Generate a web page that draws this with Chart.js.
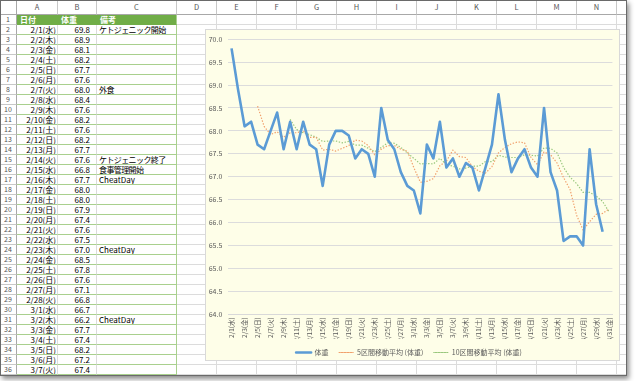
<!DOCTYPE html>
<html><head><meta charset="utf-8">
<script src="https://cdn.jsdelivr.net/npm/chart.js@4.4.1/dist/chart.umd.min.js"></script>
<style>
html,body{margin:0;padding:0;background:#fff;width:640px;height:381px;overflow:hidden;font-family:"Noto Sans CJK JP","Noto Sans",sans-serif;}
#win{position:absolute;left:0;top:0;width:627px;height:376px;overflow:hidden;background:#fff;}
#frame{position:absolute;left:0;top:0;width:627px;height:376px;box-sizing:border-box;border:1px solid #6a6a6a;box-shadow:2px 3px 5px rgba(0,0,0,0.45);pointer-events:none;z-index:10;}
.c{position:absolute;box-sizing:border-box;border-right:1px solid #dcdcdc;border-bottom:1px solid #dcdcdc;font-size:8px;line-height:9px;white-space:nowrap;overflow:hidden;color:#000;}
.h{background:#fff;color:#555;text-align:center;font-size:7.5px;border-color:#c8c8c8;}
.hr{border-bottom:1px solid #a8a8a8;}
.rh{border-right:1px solid #a8a8a8;}
.t{border-bottom:1px solid #a9d08e;}
.th{background:#70ad47;color:#fff;font-weight:bold;border-bottom:1px solid #70ad47;border-right-color:#70ad47;}
.r{text-align:right;}
#chartbox{position:absolute;left:205px;top:29px;width:415px;height:332px;box-sizing:border-box;border:1px solid #d9d9d9;background:#fefee8;overflow:hidden;z-index:5;}
#cv{position:absolute;left:-1px;top:-1px;}
</style></head>
<body>
<div id="win"></div>
<div id="frame"></div>
<script>
// ---- data ----
const categories = ['2/1(水)','2/2(木)','2/3(金)','2/4(土)','2/5(日)','2/6(月)','2/7(火)','2/8(水)','2/9(木)','2/10(金)','2/11(土)','2/12(日)','2/13(月)','2/14(火)','2/15(水)','2/16(木)','2/17(金)','2/18(土)','2/19(日)','2/20(月)','2/21(火)','2/22(水)','2/23(木)','2/24(金)','2/25(土)','2/26(日)','2/27(月)','2/28(火)','3/1(水)','3/2(木)','3/3(金)','3/4(土)','3/5(日)','3/6(月)','3/7(火)','3/8(水)','3/9(木)','3/10(金)','3/11(土)','3/12(日)','3/13(月)','3/14(火)','3/15(水)','3/16(木)','3/17(金)','3/18(土)','3/19(日)','3/20(月)','3/21(火)','3/22(水)','3/23(木)','3/24(金)','3/25(土)','3/26(日)','3/27(月)','3/28(火)','3/29(水)','3/30(木)','3/31(金)'];
const weight = [69.8,68.9,68.1,68.2,67.7,67.6,68.0,68.4,67.6,68.2,
  67.6,68.2,67.7,67.6,66.8,67.7,68.0,68.0,67.9,67.4,
  67.6,67.5,67.0,68.5,67.8,67.6,67.1,66.8,66.7,66.2,
  67.7,67.4,68.2,67.2,67.4,67.0,67.3,67.2,66.7,67.2,
  67.7,68.8,67.8,67.1,67.4,67.6,67.2,67.0,68.5,67.1,
  66.7,65.6,65.7,65.7,65.5,67.6,66.4,65.8,null];
const ma5 = [null,null,null,null,
  68.54,68.10,67.92,67.98,67.86,67.96,67.96,68.00,67.86,67.86,
  67.58,67.60,67.56,67.62,67.68,67.80,67.78,67.68,67.48,67.60,
  67.68,67.68,67.60,67.56,67.20,66.88,66.90,66.96,67.24,67.34,
  67.58,67.44,67.42,67.22,67.12,67.08,67.22,67.52,67.64,67.72,
  67.76,67.74,67.42,67.26,67.54,67.48,67.30,66.98,66.72,66.16,
  65.84,66.02,66.18,66.20,66.30];
const ma10 = [null,null,null,null,null,null,null,null,null,
  68.25,68.03,67.96,67.92,67.86,67.77,67.78,67.78,67.74,67.77,
  67.69,67.69,67.62,67.55,67.64,67.74,67.73,67.64,67.52,67.40,
  67.28,67.29,67.28,67.40,67.27,67.23,67.17,67.19,67.23,67.23,
  67.33,67.33,67.47,67.43,67.42,67.42,67.48,67.47,67.45,67.63,
  67.62,67.52,67.20,66.99,66.85,66.66,66.66,66.58,66.46,66.23];
const seriesNames = ['体重','5区間移動平均 (体重)','10区間移動平均 (体重)'];
const tableHeaders = ['日付','体重','備考'];
const notes = ['ケトジェニック開始','','','','','','外食','','','','','','','ケトジェニック終了','食事管理開始','CheatDay','','','','','','','CheatDay','','','','','','','CheatDay','','','','',''];
const columnLetters = ['A','B','C','D','E','F','G','H','I','J','K','L','M','N','O'];
const yTicks = [64.0,64.5,65.0,65.5,66.0,66.5,67.0,67.5,68.0,68.5,69.0,69.5,70.0];

// ---- sheet ----
const win = document.getElementById('win');
const colEdges = [0,17,58,97,177,217,257,297,337,377,417,457,497,537,577,617,657];
function cell(x,y,w,h,cls,txt,style){
  const d=document.createElement('div');
  d.className='c '+cls;
  d.style.left=x+'px';d.style.top=y+'px';d.style.width=w+'px';d.style.height=h+'px';
  if(style) d.style.cssText+=style;
  if(txt!==undefined) d.textContent=txt;
  win.appendChild(d);return d;
}
cell(0,0,17,15,'h hr rh','');
for(let i=0;i<columnLetters.length;i++){
  const x=colEdges[i+1],w=colEdges[i+2]-colEdges[i+1];
  cell(x,0,w,15,'h hr',columnLetters[i],'line-height:14px;');
}
const rowTop=r=>15+(r-1)*10;
for(let r=1;r<=36;r++){
  const y=rowTop(r);
  cell(0,y,17,10,'h rh',String(r),'line-height:9px;font-size:7px;');
  for(let c=1;c<colEdges.length-1;c++){
    const x=colEdges[c],w=colEdges[c+1]-x;
    let cls='',txt,st='line-height:9px;';
    if(c<=3){
      if(r===1){cls='th';txt=tableHeaders[c-1];st+='padding-left:3px;';}
      else{
        cls='t';
        const k=r-2;
        if(c===1){txt=categories[k];cls+=' r';st+='padding-right:1px;';}
        else if(c===2){txt=weight[k].toFixed(1);cls+=' r';st+='padding-right:6px;';}
        else{txt=notes[k];st+='padding-left:2px;'+(/[^\x00-\x7f]/.test(txt)?'letter-spacing:-0.6px;':'');}
      }
      if(c===3) st+='border-right:1px solid #a9d08e;';
    }
    cell(x,y,w,10,cls,txt,st);
  }
}
const box=document.createElement('div');box.id='chartbox';
const cv=document.createElement('canvas');cv.id='cv';cv.width=415;cv.height=337;
cv.style.width='415px';cv.style.height='337px';
box.appendChild(cv);win.appendChild(box);

// ---- chart ----
const FONT='"Noto Sans CJK JP", "Noto Sans", sans-serif';
new Chart(cv.getContext('2d'),{
  type:'line',
  data:{labels:categories,datasets:[
    {label:seriesNames[0],data:weight,borderColor:'#5b9bd5',backgroundColor:'#5b9bd5',borderWidth:2.6,pointRadius:0,tension:0,borderJoinStyle:'round',spanGaps:false},
    {label:seriesNames[1],data:ma5,borderColor:'#f1a06c',backgroundColor:'#f1a06c',borderWidth:1.2,borderDash:[1.4,1.6],pointRadius:0,tension:0},
    {label:seriesNames[2],data:ma10,borderColor:'#99c77c',backgroundColor:'#99c77c',borderWidth:1.2,borderDash:[1.4,1.6],pointRadius:0,tension:0}
  ]},
  options:{
    responsive:false,maintainAspectRatio:false,animation:false,devicePixelRatio:1,
    layout:{padding:{top:7.5,right:7,left:0,bottom:0}},
    plugins:{
      legend:{position:'bottom',labels:{boxWidth:15,boxHeight:0,padding:10,color:'#595959',font:{size:7,family:FONT}}},
      tooltip:{enabled:false}
    },
    scales:{
      x:{offset:true,
        grid:{display:false,drawTicks:false},
        border:{display:true,color:'#d9d9d9',width:1},
        ticks:{autoSkip:false,maxRotation:90,minRotation:90,padding:3,color:'#595959',font:{size:6.5,family:FONT},
          callback:function(v,i){return i%2===0?categories[i]:'';}},
        afterFit:s=>{s.height=24.7;}
      },
      y:{min:yTicks[0],max:yTicks[yTicks.length-1],
        afterBuildTicks:s=>{s.ticks=yTicks.map(v=>({value:v}));},
        grid:{color:'#dcdcdc',drawTicks:false,lineWidth:1},
        border:{display:false},
        ticks:{padding:6,color:'#595959',font:{size:7,family:FONT},callback:v=>Number(v).toFixed(1)},
        afterFit:s=>{s.width=23.3;}
      }
    }
  }
});
</script>
</body></html>
